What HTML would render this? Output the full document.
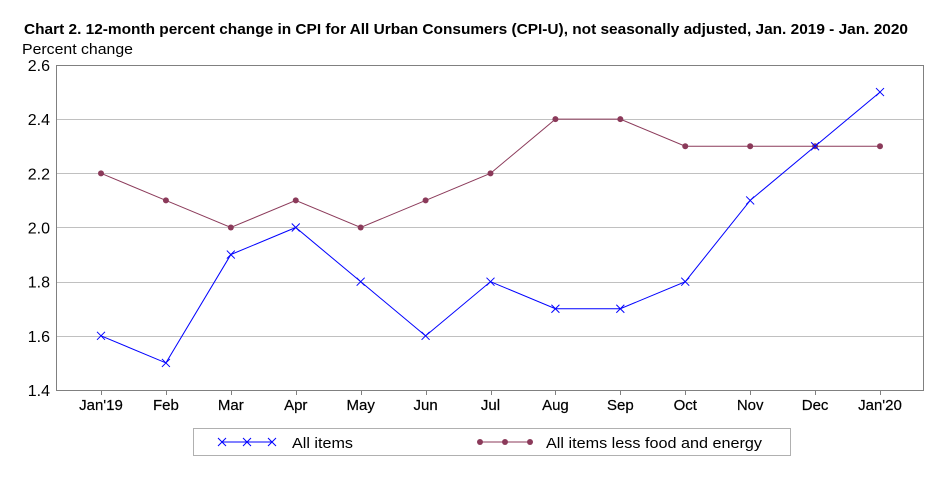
<!DOCTYPE html>
<html><head><meta charset="utf-8"><style>
body{margin:0;background:#fff;width:942px;height:486px;overflow:hidden;font-family:"Liberation Sans",sans-serif}
</style></head><body>
<svg width="942" height="486" xmlns="http://www.w3.org/2000/svg" font-family="Liberation Sans, sans-serif">
<text x="24" y="34" font-size="15" font-weight="bold" fill="#000" textLength="884" lengthAdjust="spacingAndGlyphs">Chart 2. 12-month percent change in CPI for All Urban Consumers (CPI-U), not seasonally adjusted, Jan. 2019 - Jan. 2020</text>
<text x="22" y="54" font-size="15" fill="#000" textLength="111" lengthAdjust="spacingAndGlyphs">Percent change</text>
<g id="grid"></g>
<rect x="56.5" y="65.5" width="867" height="325" fill="none" stroke="#808080"/>
<g id="marks"></g>
<rect x="193.5" y="428.5" width="597" height="27" fill="#fff" stroke="#b0b0b0"/>
<g>
<line x1="222" y1="442" x2="272" y2="442" stroke="#0000ff"/>
<path d="M218,438l8,8M226,438l-8,8M243,438l8,8M251,438l-8,8M268,438l8,8M276,438l-8,8" stroke="#0000ff"/>
<text x="292" y="448" font-size="15" textLength="61" lengthAdjust="spacingAndGlyphs">All items</text></g>
<g>
<line x1="480" y1="442" x2="530" y2="442" stroke="#8b3a5a"/>
<circle cx="480" cy="442" r="3" fill="#8b3a5a"/><circle cx="505" cy="442" r="3" fill="#8b3a5a"/><circle cx="530" cy="442" r="3" fill="#8b3a5a"/>
<text x="546" y="448" font-size="15" textLength="216" lengthAdjust="spacingAndGlyphs">All items less food and energy</text></g>
</svg>
<script>
const categories=["Jan'19","Feb","Mar","Apr","May","Jun","Jul","Aug","Sep","Oct","Nov","Dec","Jan'20"];
const allItems=[1.6,1.5,1.9,2.0,1.8,1.6,1.8,1.7,1.7,1.8,2.1,2.3,2.5];
const coreItems=[2.2,2.1,2.0,2.1,2.0,2.1,2.2,2.4,2.4,2.3,2.3,2.3,2.3];
const yTicks=[1.4,1.6,1.8,2.0,2.2,2.4,2.6];
const NS="http://www.w3.org/2000/svg";
const x=i=>101+i*(779/12);
const y=v=>390-(v-1.4)/1.2*325;
const grid=document.getElementById('grid'),marks=document.getElementById('marks');
function mk(tag,a,p){const e=document.createElementNS(NS,tag);for(const k in a)e.setAttribute(k,a[k]);p.appendChild(e);return e;}
yTicks.forEach(v=>{
 if(v>1.4&&v<2.6){const l=mk('line',{x1:57,x2:923,y1:Math.round(y(v))+.5,y2:Math.round(y(v))+.5,stroke:'#c0c0c0'},grid);
 
 }
 const t=mk('text',{x:50,y:y(v)+6,'font-size':16,'text-anchor':'end'},grid);t.textContent=v.toFixed(1);
 
 
});
categories.forEach((c,i)=>{
 mk('line',{x1:Math.round(x(i))+.5,x2:Math.round(x(i))+.5,y1:390,y2:395,stroke:'#808080'},grid);
 const t=mk('text',{x:x(i),y:410,'font-size':15,'text-anchor':'middle',stroke:'#000','stroke-width':0.2},grid);t.textContent=c;
 
 
});
const p1=mk('polyline',{points:coreItems.map((v,i)=>x(i)+','+y(v)).join(' '),fill:'none',stroke:'#8b3a5a'},marks);


coreItems.forEach((v,i)=>{const c=mk('circle',{cx:x(i),cy:y(v),r:3,fill:'#8b3a5a'},marks);
 
 });
const p2=mk('polyline',{points:allItems.map((v,i)=>x(i)+','+y(v)).join(' '),fill:'none',stroke:'#0000ff'},marks);


allItems.forEach((v,i)=>{const X=x(i),Y=y(v);const c=mk('path',{d:`M${X-4},${Y-4}l8,8M${X+4},${Y-4}l-8,8`,stroke:'#0000ff'},marks);
 
 });
</script>
</body></html>
